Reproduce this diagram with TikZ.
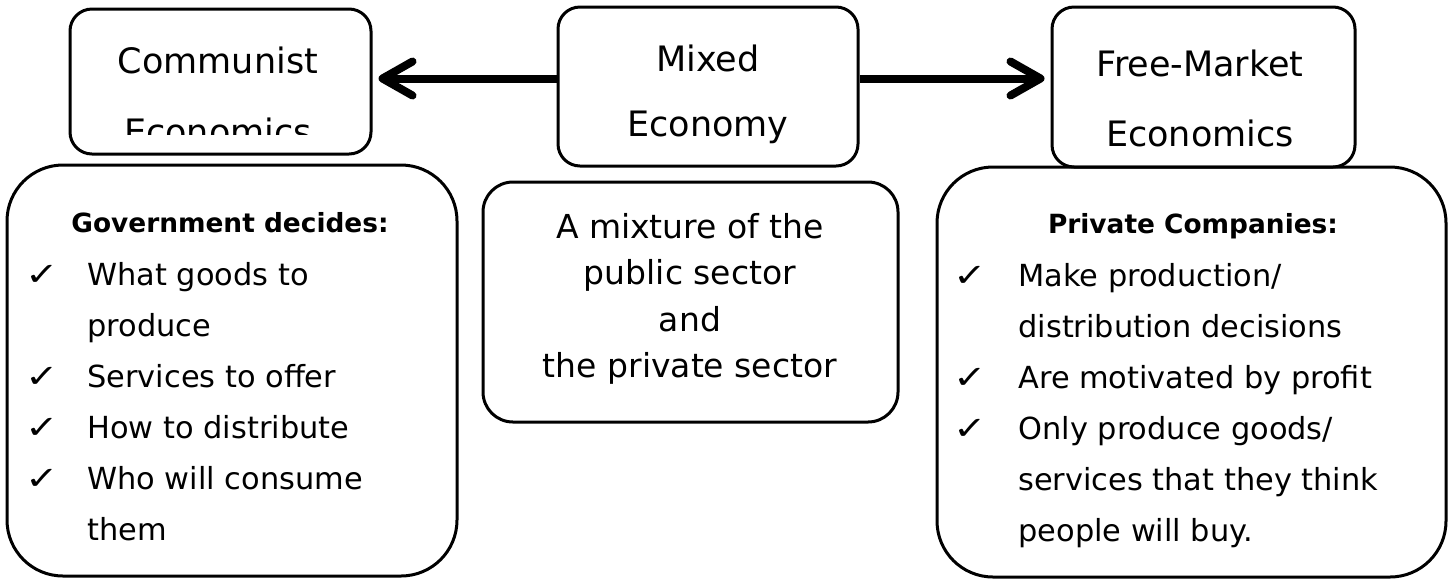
\documentclass[tikz,border=0pt]{standalone}
\usepackage{graphicx}
\usepackage{fontspec}
\setmainfont{DejaVu Sans}
\usetikzlibrary{arrows.meta,fit}

\newcommand{\tick}{\scalebox{1}[0.8]{\fontsize{20}{22}\selectfont ✓}}

\begin{document}
\begin{tikzpicture}[x=0.5pt,y=-0.5pt,
  box/.style={draw,line width=1.5pt,inner sep=0pt},
  toptext/.style={anchor=base,inner sep=0pt,font=\fontsize{17.5}{20}\selectfont},
  headtext/.style={anchor=base,inner sep=0pt,font=\fontsize{13.2}{15}\selectfont\bfseries},
  listtext/.style={anchor=base west,inner sep=0pt,font=\fontsize{15.2}{18}\selectfont},
  midtext/.style={anchor=base,inner sep=0pt,font=\fontsize{16.5}{19}\selectfont},
  tickmark/.style={anchor=base,inner sep=0pt},
  arr/.style={line width=4pt,-{Straight Barb[length=15pt,width=17pt,round]},shorten >=3pt}]
%\draw[help lines,step=50] (0,0) grid (1449,580);
\useasboundingbox (0,0) rectangle (1449,580);

% top row
\node [box,rounded corners=11pt,fit={(70,9) (371,154)}] (comm) {};
\node [box,rounded corners=11pt,fit={(558,7) (858,166)}] (mixed) {};
\node [box,rounded corners=11pt,fit={(1052,7) (1355,167)}] (free) {};

\node [toptext] (comm1) at (218,73) {Communist};
\begin{scope}
\clip (70,9) rectangle (371,134);
\node [toptext] (comm2) at (218,144) {Economics};
\end{scope}
\node [toptext] (mixed1) at (708,71) {Mixed};
\node [toptext] (mixed2) at (708,136) {Economy};
\node [toptext] (free1) at (1200,76) {Free-Market};
\node [toptext] (free2) at (1200,146) {Economics};

\draw [arr] ([yshift=4pt]mixed.west) -- ([yshift=4pt]mixed.west -| comm.east);
\draw [arr] ([yshift=4pt]mixed.east) -- ([yshift=4pt]mixed.east -| free.west);

% bottom row
\node [box,rounded corners=28pt,fit={(7,165) (457,576)}] (govt) {};
\node [box,rounded corners=15pt,fit={(483,182) (898,422)}] (mixdesc) {};
\node [box,rounded corners=28pt,fit={(937,167) (1446,577)}] (priv) {};

\node [headtext] (govt-h) at (230,232) {Government decides:};
\foreach \txt [count=\i] in {What goods to,produce,Services to offer,How to distribute,Who will consume,them}
  \node [listtext] (govt-l\i) at (87,{285+51*(\i-1)}) {\txt};
\foreach \i in {1,3,4,5}
  \node [tickmark] (govt-c\i) at (42,{285+51*(\i-1)}) {\tick};

\foreach \txt [count=\i] in {A mixture of the,public sector,and,the private sector}
  \node [midtext] (mixdesc-l\i) at (690,{238+46.5*(\i-1)}) {\txt};

\node [headtext] (priv-h) at (1193,233) {Private Companies:};
\foreach \txt [count=\i] in {Make production/,distribution decisions,Are motivated by profit,Only produce goods/,services that they think,people will buy.}
  \node [listtext] (priv-l\i) at (1018,{286+51*(\i-1)}) {\txt};
\foreach \i in {1,3,4}
  \node [tickmark] (priv-c\i) at (970,{286+51*(\i-1)}) {\tick};
\end{tikzpicture}
\end{document}
